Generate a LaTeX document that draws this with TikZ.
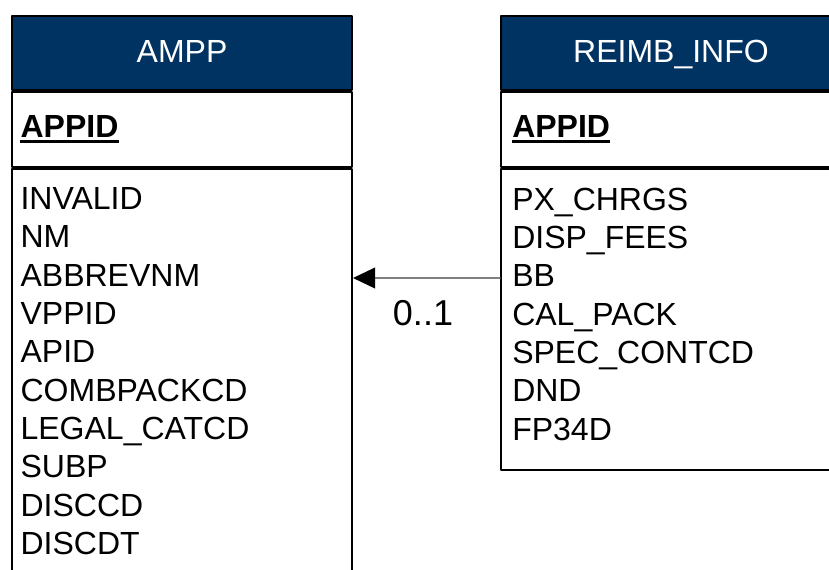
\documentclass[tikz,border=0pt]{standalone}
\usepackage{fontspec}
\setmainfont{Liberation Sans}
\usetikzlibrary{arrows.meta,positioning}
\definecolor{navy}{RGB}{0,51,98}

\tikzset{
  tblfont/.style={font=\fontsize{24}{28.75}\selectfont},
  headbox/.style={draw,line width=1.5pt,fill=navy,text=white,tblfont,minimum width=255pt,minimum height=55.5pt,anchor=north west,inner sep=0pt,text depth=3pt},
  keybox/.style={draw,line width=1.5pt,minimum width=255pt,minimum height=56.25pt,anchor=north west,inner sep=0pt},
  attrbox/.style={draw,line width=1.5pt,minimum width=255pt,anchor=north west,inner sep=0pt},
  keytext/.style={font={\fontsize{24}{28.75}\selectfont\bfseries},anchor=base west,inner sep=0pt},
  attrtext/.style={tblfont,anchor=base west,inner sep=0pt},
  fkline/.style={draw=gray,line width=1.1pt,-{Triangle[length=16.5pt,width=15.5pt,color=black]}}
}

\begin{document}
\begin{tikzpicture}[line cap=round,line join=round,x=0.75pt,y=-0.75pt]
\useasboundingbox (0,0) rectangle (829,569);
\clip (0,0) rectangle (829,569);
% table AMPP
\node[headbox] (ampph) at (11,15) {AMPP};
\node[keybox] (amppk) at (ampph.south west) {};
\node[attrbox,minimum height=334.5pt] (amppa) at (amppk.south west) {};
\node[keytext] (amppkey) at ([xshift=7pt,yshift=-34.5pt]amppk.north west) {APPID};
\draw[line width=2.25pt,line cap=butt] ([yshift=-3.4pt]amppkey.base west) -- ([yshift=-3.4pt]amppkey.base east);
\foreach \a [count=\i] in {INVALID,NM,ABBREVNM,VPPID,APID,COMBPACKCD,LEGAL\_CATCD,SUBP,DISCCD,DISCDT}
  \node[attrtext] (ampp-\i) at ([xshift=7pt,yshift={-31pt-(\i-1)*28.75pt}]amppa.north west) {\a};
% table REIMB_INFO
\node[headbox] (reimbh) at (500,15) {REIMB\_INFO};
\node[keybox] (reimbk) at (reimbh.south west) {};
\node[attrbox,minimum height=225.75pt] (reimba) at (reimbk.south west) {};
\node[keytext] (reimbkey) at ([xshift=9pt,yshift=-34.5pt]reimbk.north west) {APPID};
\draw[line width=2.25pt,line cap=butt] ([yshift=-3.4pt]reimbkey.base west) -- ([yshift=-3.4pt]reimbkey.base east);
\foreach \a [count=\i] in {PX\_CHRGS,DISP\_FEES,BB,CAL\_PACK,SPEC\_CONTCD,DND,FP34D}
  \node[attrtext] (reimb-\i) at ([xshift=9pt,yshift={-31.5pt-(\i-1)*28.75pt}]reimba.north west) {\a};
% relation
\coordinate (fk) at (0,278);
\draw[fkline] (reimba.west |- fk) -- (amppa.east |- fk);
\node[font=\fontsize{27}{32}\selectfont] (card) at (423,313) {0..1};
\end{tikzpicture}
\end{document}
